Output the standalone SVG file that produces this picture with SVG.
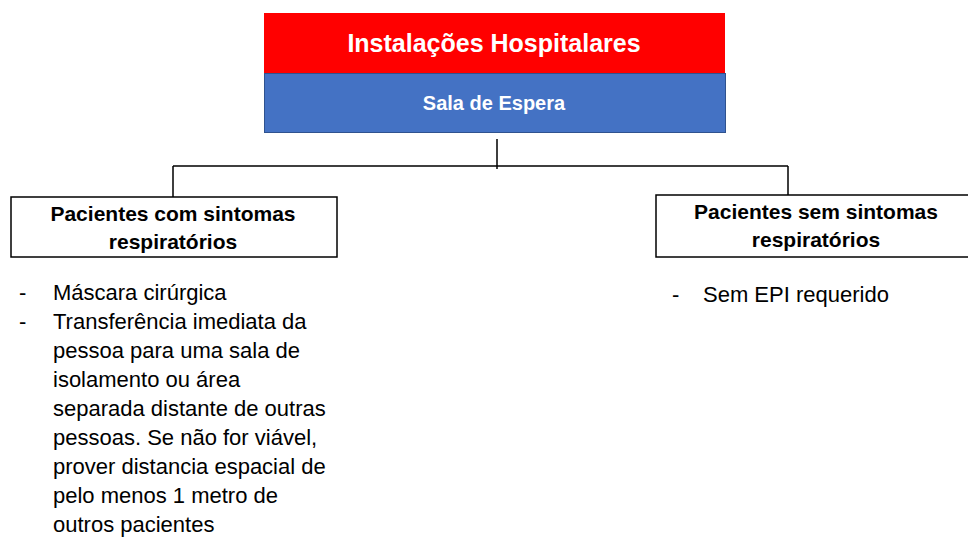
<svg xmlns="http://www.w3.org/2000/svg" width="968" height="539" viewBox="0 0 968 539">
<style>
.t{font-family:"Liberation Sans",Arial,sans-serif;}
.w{fill:#fff;font-weight:bold;text-anchor:middle;}
.h{fill:#000;font-weight:bold;text-anchor:middle;font-size:21px;}
.b{fill:#000;font-size:22px;}
.box{fill:#fff;stroke:#000;stroke-width:1.5;}
.c{fill:none;stroke:#000;stroke-width:1.5;}
</style>
<rect width="968" height="539" fill="#fff"/>
<g id="top">
<rect x="264" y="13" width="461" height="60" fill="#ff0000"/>
<text class="t w" x="494" y="52" font-size="25">Instalações Hospitalares</text>
</g>
<g id="sala">
<rect x="264.5" y="73.5" width="461" height="59" fill="#4472c4" stroke="#2f528f" stroke-width="1"/>
<text class="t w" x="494" y="110" font-size="20">Sala de Espera</text>
</g>
<g id="connectors">
<path class="c" d="M497 139V169M173 166H788M173 166V197M788 166V195"/>
</g>
<g id="left">
<rect class="box" x="11" y="197" width="326" height="60"/>
<text class="t h" x="173" y="221">Pacientes com sintomas</text>
<text class="t h" x="173" y="249">respiratórios</text>
</g>
<g id="right">
<rect class="box" x="656" y="195" width="320" height="62"/>
<text class="t h" x="816" y="219">Pacientes sem sintomas</text>
<text class="t h" x="816" y="247">respiratórios</text>
</g>
<g id="left-list">
<text class="t b" x="19" y="300">-</text>
<text class="t b" x="53" y="300">Máscara cirúrgica</text>
<text class="t b" x="19" y="329">-</text>
<text class="t b" x="53" y="329">Transferência imediata da</text>
<text class="t b" x="53" y="358">pessoa para uma sala de</text>
<text class="t b" x="53" y="387">isolamento ou área</text>
<text class="t b" x="53" y="416">separada distante de outras</text>
<text class="t b" x="53" y="445">pessoas. Se não for viável,</text>
<text class="t b" x="53" y="474">prover distancia espacial de</text>
<text class="t b" x="53" y="503">pelo menos 1 metro de</text>
<text class="t b" x="53" y="532">outros pacientes</text>
</g>
<g id="right-list">
<text class="t b" x="672" y="302">-</text>
<text class="t b" x="703" y="302">Sem EPI requerido</text>
</g>
</svg>
